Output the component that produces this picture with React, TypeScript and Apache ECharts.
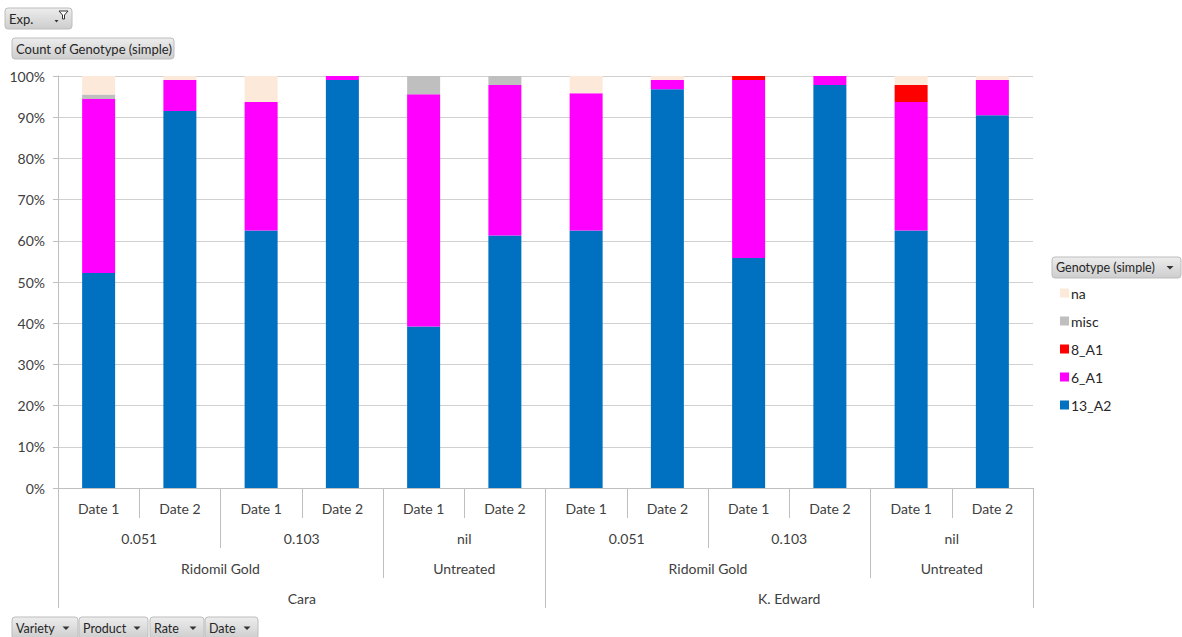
import React, { useEffect, useRef } from "react";
import * as echarts from "echarts";

// Category hierarchy (innermost first)
const dates = ["Date 1", "Date 2", "Date 1", "Date 2", "Date 1", "Date 2", "Date 1", "Date 2", "Date 1", "Date 2", "Date 1", "Date 2"];
const rateLabels = ["0.051", "0.103", "nil", "0.051", "0.103", "nil"];
const productLabels = ["Ridomil Gold", "Untreated", "Ridomil Gold", "Untreated"];
const productSpans = [4, 2, 4, 2];
const varietyLabels = ["Cara", "K. Edward"];
const varietySpans = [6, 6];

// Share of each genotype per group (%), stacked to 100%
const s13A2 = [52.2, 91.5, 62.5, 99.0, 39.2, 61.3, 62.5, 96.8, 55.8, 97.8, 62.5, 90.5];
const s6A1 = [42.2, 7.5, 31.2, 1.0, 56.4, 36.5, 33.3, 2.2, 43.2, 2.2, 31.2, 8.5];
const s8A1 = [0, 0, 0, 0, 0, 0, 0, 0, 1.0, 0, 4.1, 0];
const sMisc = [1.1, 0, 0, 0, 4.4, 2.2, 0, 0, 0, 0, 0, 0];
const sNa = [4.5, 1.0, 6.3, 0, 0, 0, 4.2, 1.0, 0, 0, 2.2, 1.0];

const yTicks = [0, 10, 20, 30, 40, 50, 60, 70, 80, 90, 100];

const FONT = "Lato";
const LINE = "#BFBFBF";
const TEXT = "#404040";

// Build tick boundaries and label centres for a level of spanning groups
function spans(sizes: number[]) {
  const ticks = [0];
  const centres: number[] = [];
  let acc = 0;
  sizes.forEach((s) => {
    centres.push(acc + s / 2);
    acc += s;
    ticks.push(acc);
  });
  return { ticks, centres };
}

function levelAxis(labels: string[], sizes: number[], offset: number) {
  const { ticks, centres } = spans(sizes);
  const lookup: Record<string, string> = {};
  centres.forEach((c, i) => (lookup[String(c)] = labels[i]));
  return {
    type: "value",
    gridIndex: 0,
    position: "bottom",
    offset,
    min: 0,
    max: dates.length,
    axisLine: { show: false },
    splitLine: { show: false },
    axisTick: { show: true, length: 30, customValues: ticks, lineStyle: { color: LINE, width: 1 } },
    axisLabel: {
      show: true,
      customValues: centres,
      margin: 13,
      fontFamily: FONT,
      fontSize: 14,
      color: TEXT,
      formatter: (v: number) => lookup[String(v)] ?? "",
    },
  };
}

function button(x: number, y: number, w: number, h: number, label: string, arrowX: number | null, fontSize = 13) {
  const children: any[] = [
    {
      type: "rect",
      shape: { x, y, width: w, height: h, r: 3 },
      style: {
        fill: new echarts.graphic.LinearGradient(0, 0, 0, 1, [
          { offset: 0, color: "#EDEDED" },
          { offset: 1, color: "#CDCDCD" },
        ]),
        stroke: "#BDBDBD",
        lineWidth: 1,
      },
    },
    {
      type: "text",
      x: x + 4,
      y: y + h / 2,
      style: { text: label, fontFamily: FONT, fontSize, fill: "#262626", verticalAlign: "middle", align: "left" },
    },
  ];
  if (arrowX !== null) {
    const ay = y + h / 2;
    children.push({
      type: "polygon",
      shape: { points: [[arrowX - 3.5, ay - 1.5], [arrowX + 3.5, ay - 1.5], [arrowX, ay + 2]] },
      style: { fill: "#333" },
    });
  }
  return { type: "group", children };
}

export default function App() {
  const ref = useRef<HTMLDivElement>(null);

  useEffect(() => {
    if (!ref.current) return;
    const chart = echarts.init(ref.current, null, { renderer: "svg" });

    const seriesDefs = [
      { name: "13_A2", data: s13A2, color: "#0070C0" },
      { name: "6_A1", data: s6A1, color: "#FF00FF" },
      { name: "8_A1", data: s8A1, color: "#FF0000" },
      { name: "misc", data: sMisc, color: "#BFBFBF" },
      { name: "na", data: sNa, color: "#FDE9D9" },
    ];

    chart.setOption({
      animation: false,
      textStyle: { fontFamily: FONT },
      grid: { left: 58, right: 149, top: 76, bottom: 149, containLabel: false },
      legend: {
        data: ["na", "misc", "8_A1", "6_A1", "13_A2"],
        orient: "vertical",
        left: 1055,
        top: 281,
        itemWidth: 9,
        itemHeight: 9,
        itemGap: 14,
        icon: "rect",
        textStyle: { fontFamily: FONT, fontSize: 14, lineHeight: 14, color: "#262626", padding: [0, 0, 0, -3] },
      },
      xAxis: [
        {
          type: "category",
          data: dates,
          position: "bottom",
          axisLine: { show: true, lineStyle: { color: LINE } },
          axisTick: { show: true, interval: 0, alignWithLabel: false, length: 30, lineStyle: { color: LINE } },
          axisLabel: { interval: 0, margin: 13, fontFamily: FONT, fontSize: 14, color: TEXT },
          splitLine: { show: false },
        },
        levelAxis(rateLabels, rateLabels.map(() => 2), 30),
        levelAxis(productLabels, productSpans, 60),
        levelAxis(varietyLabels, varietySpans, 90),
      ],
      yAxis: {
        type: "value",
        min: 0,
        max: 100,
        interval: 10,
        axisLine: { show: true, lineStyle: { color: LINE } },
        axisTick: { show: true, length: 5, lineStyle: { color: LINE } },
        axisLabel: {
          margin: 13,
          fontFamily: FONT,
          fontSize: 14,
          color: TEXT,
          formatter: (v: number) => (yTicks.includes(v) ? `${v}%` : ""),
        },
        splitLine: { show: true, lineStyle: { color: "#D0D0D0", width: 1 } },
      },
      series: seriesDefs.map((s) => ({
        name: s.name,
        type: "bar",
        stack: "total",
        barWidth: 33,
        xAxisIndex: 0,
        data: s.data,
        itemStyle: { color: s.color },
        emphasis: { disabled: true },
      })),
      graphic: [
        button(5, 8, 67, 21, "Exp.", null),
        {
          type: "group",
          children: [
            {
              type: "polygon",
              shape: { points: [[59, 11], [68, 11], [64.5, 15], [64.5, 19], [62.5, 19], [62.5, 15]] },
              style: { fill: "#FFFFFF", stroke: "#333", lineWidth: 1 },
            },
            {
              type: "polygon",
              shape: { points: [[54.5, 20], [58.5, 20], [56.5, 22.5]] },
              style: { fill: "#333" },
            },
          ],
        },
        button(12, 38, 162, 21, "Count of Genotype (simple)", null),
        button(1052, 257, 129, 21, "Genotype (simple)", 1170, 12.5),
        button(12, 617, 66, 22, "Variety", 66, 12.5),
        button(79, 617, 69, 22, "Product", 137, 12.5),
        button(150, 617, 54, 22, "Rate", 193, 12.5),
        button(205, 617, 53, 22, "Date", 247, 12.5),
      ],
    });

    return () => chart.dispose();
  }, []);

  return (
    <div
      ref={ref}
      style={{ position: "fixed", left: 0, top: 0, width: 1182, height: 637, background: "#FFFFFF" }}
    />
  );
}
